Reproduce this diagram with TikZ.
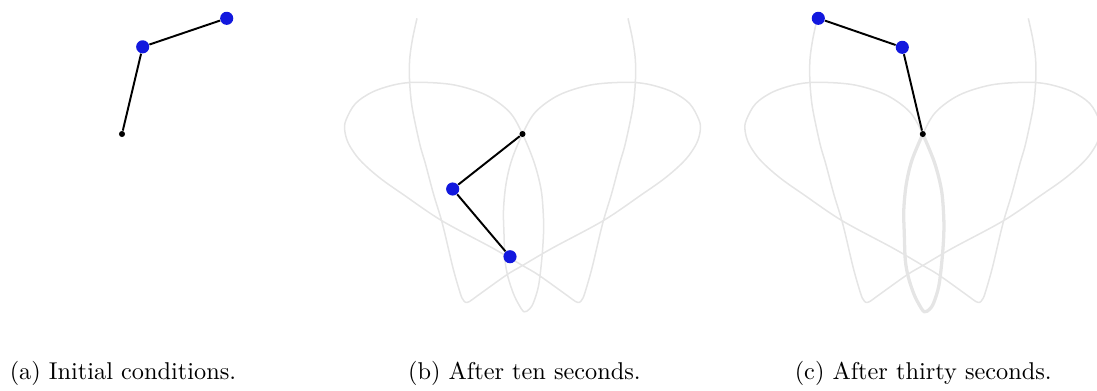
\documentclass[tikz,border=0pt]{standalone}
\begin{document}
\begin{tikzpicture}[x=0.4115pt,y=-0.4115pt,
  traj/.style={draw=black!10,line width=0.62pt,line join=round},
  trajthick/.style={draw=black!10,line width=1.35pt,line join=round},
  rod/.style={draw=black,line width=0.8pt},
  bob/.style={circle,fill={rgb,255:red,18;green,24;blue,222},inner sep=0pt,minimum size=5.4pt},
  pivot/.style={circle,fill=black,inner sep=0pt,minimum size=2.5pt},
  captext/.style={anchor=base west,inner sep=0pt,font=\normalsize}]
\useasboundingbox (0,0) rectangle (1097,390);
% trajectories
\foreach \px in {522.5,922.8}{
\begin{scope}[shift={(\px,134)}]
\draw[traj] plot[smooth,tension=0.55] coordinates {
(-105.5,-115.7) (-110,-95) (-112.8,-75) (-113,-55) (-111.5,-35) (-109,-19)
(-102.5,11) (-97,30) (-89,60) (-80,90) (-69.5,134) (-62,160) (-59.5,165.5)
(-57,168.3) (-53,167.5) (-44,161) (-16,141) (0,131.5) (30,114) (81,86.5)
(120,60) (140,46) (155,33.5) (166,22) (174.5,8.5) (177.8,-4) (176.5,-14)
(167,-30.5) (149,-42.5) (124.5,-50) (101.5,-51.7) (68,-49) (36.5,-39) (13,-22) (0,0)
(-10.8,26) (-16.5,50) (-19,76) (-18.5,100) (-17.5,126) (-14.5,143)
(-9.2,159.3) (-4,170) (1.5,177.8) (7,175) (11,168.5) (16,152) (19.2,126)
(21,100) (20.8,80) (18.5,55) (11.5,28) (0,0)
(-13,-22) (-36.5,-39) (-68,-49) (-101.5,-51.7) (-124.5,-50) (-149,-42.5)
(-167,-30.5) (-176.5,-14) (-177.8,-4) (-174.5,8.5) (-166,22) (-155,33.5)
(-140,46) (-120,60) (-81,86.5)
(-30,114) (0,131.5) (16,141) (44,161) (53,167.5) (57,168.3) (59.5,165.5)
(62,160) (69.5,134) (80,90) (89,60) (97,30) (102.5,11) (109,-19)
(111.5,-35) (113,-55) (112.8,-75) (110,-95) (105.5,-115.7)};
\end{scope}}
\begin{scope}[shift={(922.8,134)}]
\draw[trajthick] plot[smooth,tension=0.55] coordinates {
(0,0) (-10.8,26) (-16.5,50) (-19,76) (-18.5,100) (-17.5,126) (-14.5,143)
(-9.2,159.3) (-4,170) (1.5,177.8) (7,175) (11,168.5) (16,152) (19.2,126)
(21,100) (20.8,80) (18.5,55) (11.5,28) (0,0)};
\end{scope}
% panel (a)
\node[pivot] (pa) at (122,134) {};
\node[bob] (a1) at (142.7,46.8) {};
\node[bob] (a2) at (226.7,18.3) {};
\draw[rod] (pa) -- (a1) -- (a2);
% panel (b)
\node[pivot] (pb) at (522.5,134) {};
\node[bob] (b1) at (452.7,189) {};
\node[bob] (b2) at (510,256.7) {};
\draw[rod] (pb) -- (b1) -- (b2);
% panel (c)
\node[pivot] (pc) at (922.8,134) {};
\node[bob] (c1) at (902.3,47.3) {};
\node[bob] (c2) at (818.3,18.3) {};
\draw[rod] (pc) -- (c1) -- (c2);
% captions
\node[captext] (capa) at (9.3,379.5) {(a) Initial conditions.};
\node[captext] (capb) at (407.7,379.5) {(b) After ten seconds.};
\node[captext] (capc) at (794.3,379.5) {(c) After thirty seconds.};
\end{tikzpicture}
\end{document}
